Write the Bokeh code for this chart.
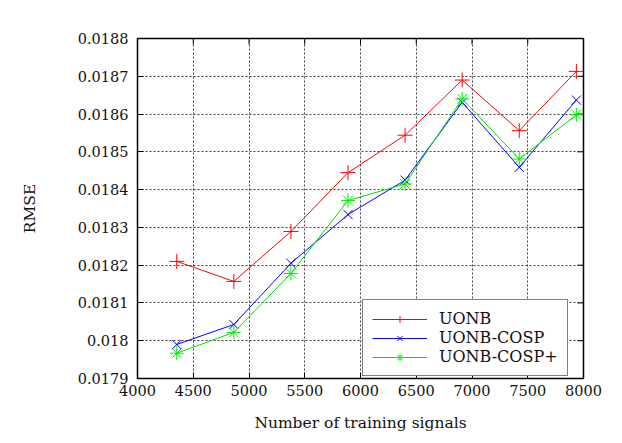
import math
from bokeh.plotting import figure
from bokeh.models import (ColumnDataSource, Range1d, FixedTicker,
                          CustomJSTickFormatter, Legend, LegendItem)
from bokeh.embed import file_html
from bokeh.resources import INLINE

x_signals = [4352, 4864, 5376, 5888, 6400, 6912, 7424, 7936]
uonb = [0.018210, 0.018157, 0.018289, 0.018445, 0.018544, 0.018690, 0.018556, 0.018713]
uonb_cosp = [0.017990, 0.018043, 0.018205, 0.018334, 0.018425, 0.018631, 0.018459, 0.018637]
uonb_cosp_plus = [0.017967, 0.018022, 0.018178, 0.018371, 0.018415, 0.018640, 0.018481, 0.018598]
x_ticks = [4000, 4500, 5000, 5500, 6000, 6500, 7000, 7500, 8000]
y_ticks = [0.0179, 0.0180, 0.0181, 0.0182, 0.0183, 0.0184, 0.0185, 0.0186, 0.0187, 0.0188]
series_names = ["UONB", "UONB-COSP", "UONB-COSP+"]

FONT = "DejaVu Serif"
X0, X1 = x_ticks[0], x_ticks[-1]
Y0, Y1 = y_ticks[0], y_ticks[-1]

p = figure(width=606, height=435, output_backend="svg", toolbar_location=None,
           x_range=Range1d(X0, X1), y_range=Range1d(Y0, Y1),
           min_border_left=137, min_border_right=23, min_border_top=38, min_border_bottom=57)

p.outline_line_color = "black"
p.outline_line_width = 1.5
p.background_fill_color = "white"
p.border_fill_color = "white"

fmt = CustomJSTickFormatter(code="return String(Math.round(tick*1e4)/1e4);")

for ax in p.xaxis + p.yaxis:
    ax.major_tick_in = 6
    ax.major_tick_out = 0
    ax.minor_tick_in = 0
    ax.minor_tick_out = 0
    ax.axis_line_color = None
    ax.major_label_text_font = FONT
    ax.major_label_text_font_size = "14.5px"
    ax.major_label_text_color = "#111111"
    ax.axis_label_text_font = FONT
    ax.axis_label_text_font_size = "15.5px"
    ax.axis_label_text_font_style = "normal"
    ax.axis_label_text_color = "#111111"
    ax.major_tick_line_color = "black"

p.xaxis.ticker = FixedTicker(ticks=x_ticks)
p.yaxis.ticker = FixedTicker(ticks=y_ticks)
p.yaxis.formatter = fmt
p.xaxis.axis_label = "Number of training signals"
p.yaxis.axis_label = "RMSE"
p.xaxis.major_label_standoff = 6
p.yaxis.major_label_standoff = 9
p.xaxis.axis_label_standoff = 15
p.yaxis.axis_label_standoff = 36

p.xgrid.ticker = FixedTicker(ticks=x_ticks)
p.ygrid.ticker = FixedTicker(ticks=y_ticks)
for g in (p.xgrid, p.ygrid):
    g.grid_line_color = "black"
    g.grid_line_alpha = 0.75
    g.grid_line_dash = "2 2"
    g.grid_line_width = 1

# mirrored inward ticks on top and right edges (clipped to the frame)
p.scatter(x=x_ticks, y=[Y1] * len(x_ticks), marker="dash", angle=math.pi / 2,
          size=12, line_color="black", line_width=1)
p.scatter(x=[X1] * len(y_ticks), y=y_ticks, marker="dash",
          size=12, line_color="black", line_width=1)

src = ColumnDataSource(dict(x=x_signals, a=uonb, b=uonb_cosp, c=uonb_cosp_plus))

l1 = p.line("x", "a", source=src, line_color="#ff0000", line_width=1)
m1 = p.scatter("x", "a", source=src, marker="cross", size=15, line_color="#ff0000", line_width=1)
l2 = p.line("x", "b", source=src, line_color="#0000ff", line_width=1)
m2 = p.scatter("x", "b", source=src, marker="x", size=13, line_color="#0000ff", line_width=1)
l3 = p.line("x", "c", source=src, line_color="#00e000", line_width=1)
m3 = p.scatter("x", "c", source=src, marker="asterisk", size=14, line_color="#00ee00", line_width=1)

legend = Legend(items=[LegendItem(label=series_names[0], renderers=[l1, m1]),
                       LegendItem(label=series_names[1], renderers=[l2, m2]),
                       LegendItem(label=series_names[2], renderers=[l3, m3])],
                location=(225, 2))
legend.border_line_color = "black"
legend.border_line_width = 1.5
legend.label_text_font = FONT
legend.label_text_font_size = "16px"
legend.label_text_color = "#111111"
legend.glyph_width = 55
legend.label_height = 18
legend.glyph_height = 18
legend.spacing = 0
legend.padding = 9
legend.margin = 0
legend.label_standoff = 12
legend.background_fill_alpha = 1
p.add_layout(legend)

open("out.html", "w").write(file_html(p, INLINE))
